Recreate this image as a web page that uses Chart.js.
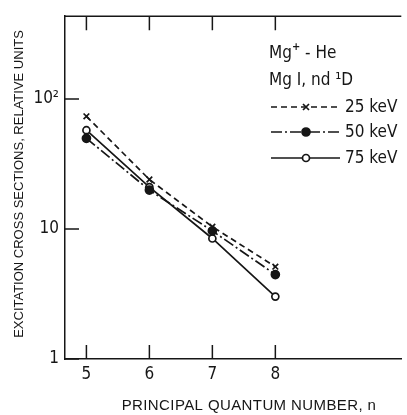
<!DOCTYPE html>
<html><head><meta charset="utf-8">
<script src="https://cdn.jsdelivr.net/npm/chart.js@4.4.1/dist/chart.umd.min.js"></script>
<style>html,body{margin:0;padding:0;background:#fff;overflow:hidden}#wrap{width:407px;height:415px;position:relative}</style>
</head><body><div id="wrap"><canvas id="c" width="407" height="415"></canvas></div>
<script>
// ---- data ----
const quantumN = [5, 6, 7, 8];
const kev25 = [73.5, 24.0, 10.4, 5.13];
const kev50 = [49.8, 19.9, 9.66, 4.46];
const kev75 = [57.5, 21.0, 8.45, 3.02];
const xTickValues = [5, 6, 7, 8];
const yTickValues = [1, 10, 100];
const yTickLabels = ['1', '10', '10²'];
const seriesLabels = ['25 keV', '50 keV', '75 keV'];
const xTitle = 'PRINCIPAL QUANTUM NUMBER, n';
const yTitle = 'EXCITATION CROSS SECTIONS, RELATIVE UNITS';
const headerLine1 = ['Mg', '+', ' - He'];
const headerLine2 = 'Mg I, nd ¹D';

const INK = '#161616';
const NARROW = "'Liberation Sans Narrow','DejaVu Sans Condensed','Liberation Sans',sans-serif";
const REG = "'Liberation Sans','Arial',sans-serif";

const styles = [
  {dash: [6, 4], pointStyle: 'crossRot', r: 4, fill: INK},
  {dash: [11, 3, 2, 3], pointStyle: 'circle', r: 4, fill: INK},
  {dash: [], pointStyle: 'circle', r: 3.5, fill: '#fff'}
];

function mk(vals, i) {
  const s = styles[i];
  return {
    label: seriesLabels[i],
    data: quantumN.map((x, k) => ({x, y: vals[k]})),
    borderColor: INK, borderWidth: 1.7, borderDash: s.dash,
    pointStyle: s.pointStyle, pointRadius: s.r, pointBorderWidth: 1.7,
    pointBackgroundColor: s.fill, pointBorderColor: INK, tension: 0, fill: false
  };
}

function drawMarker(ctx, style, x, y) {
  ctx.save();
  ctx.setLineDash([]);
  ctx.lineWidth = 1.7; ctx.strokeStyle = INK;
  if (style.pointStyle === 'crossRot') {
    const d = style.r * 0.75;
    ctx.beginPath(); ctx.moveTo(x - d, y - d); ctx.lineTo(x + d, y + d);
    ctx.moveTo(x - d, y + d); ctx.lineTo(x + d, y - d); ctx.stroke();
  } else {
    ctx.beginPath(); ctx.arc(x, y, style.r, 0, Math.PI * 2);
    ctx.fillStyle = style.fill; ctx.fill(); ctx.stroke();
  }
  ctx.restore();
}

const decor = {
  id: 'decor',
  afterDraw(chart) {
    const {ctx, chartArea: {left, right, top, bottom}, scales: {x, y}} = chart;
    ctx.save();
    ctx.strokeStyle = INK; ctx.lineWidth = 1.5; ctx.setLineDash([]);
    ctx.beginPath();
    ctx.moveTo(left - 0.75, top); ctx.lineTo(right, top);
    xTickValues.forEach(v => {
      const px = x.getPixelForValue(v);
      ctx.moveTo(px, bottom); ctx.lineTo(px, bottom - 14);
      ctx.moveTo(px, top); ctx.lineTo(px, top + 14);
    });
    yTickValues.forEach(v => {
      const py = y.getPixelForValue(v);
      ctx.moveTo(left, py); ctx.lineTo(left + 14, py);
    });
    ctx.stroke();

    // axis titles
    ctx.fillStyle = INK;
    ctx.font = '15px ' + REG;
    ctx.letterSpacing = '0.4px';
    ctx.textAlign = 'center'; ctx.textBaseline = 'alphabetic';
    ctx.fillText(xTitle, 249, 410);
    ctx.save();
    ctx.translate(23, 184); ctx.rotate(-Math.PI / 2);
    ctx.font = '13px ' + REG;
    ctx.letterSpacing = '0px';
    ctx.fillText(yTitle, 0, 0);
    ctx.restore();

    // legend block
    ctx.letterSpacing = '0px';
    ctx.textAlign = 'left';
    ctx.font = '17px ' + NARROW;
    let tx = 269;
    ctx.fillText(headerLine1[0], tx, 58); tx += ctx.measureText(headerLine1[0]).width;
    ctx.font = 'bold 11px ' + NARROW;
    ctx.fillText(headerLine1[1], tx, 50); tx += ctx.measureText(headerLine1[1]).width;
    ctx.font = '17px ' + NARROW;
    ctx.fillText(headerLine1[2], tx, 58);
    ctx.fillText(headerLine2, 269, 85);
    const rows = [107, 132, 158];
    rows.forEach((ry, i) => {
      const s = styles[i];
      ctx.save();
      ctx.lineWidth = 1.7; ctx.strokeStyle = INK; ctx.setLineDash(s.dash);
      ctx.beginPath(); ctx.moveTo(271, ry); ctx.lineTo(340, ry); ctx.stroke();
      ctx.restore();
      drawMarker(ctx, s, 306, ry);
      ctx.textBaseline = 'middle';
      ctx.fillText(seriesLabels[i], 345, ry + 1);
    });
    ctx.restore();
  }
};

new Chart(document.getElementById('c'), {
  type: 'line',
  data: {datasets: [mk(kev25, 0), mk(kev50, 1), mk(kev75, 2)]},
  options: {
    responsive: false, animation: false, devicePixelRatio: 1,
    layout: {padding: {top: 11, right: 0, bottom: 0, left: 0}},
    plugins: {legend: {display: false}, tooltip: {enabled: false}},
    scales: {
      x: {
        type: 'linear', min: 4.66, max: 10,
        afterBuildTicks: s => { s.ticks = xTickValues.map(v => ({value: v})); },
        afterFit: s => { s.height = 56; },
        grid: {display: false, drawTicks: false},
        border: {display: true, color: INK, width: 1.5},
        ticks: {color: INK, padding: 5, font: {family: NARROW, size: 17}, callback: v => String(v)}
      },
      y: {
        type: 'logarithmic', min: 1, max: 433,
        afterBuildTicks: s => { s.ticks = yTickValues.map(v => ({value: v})); },
        afterFit: s => { s.width = 65; },
        grid: {display: false, drawTicks: false},
        border: {display: true, color: INK, width: 1.5},
        ticks: {color: INK, padding: 6, font: {family: NARROW, size: 17},
          callback: v => { const i = yTickValues.indexOf(v); return i >= 0 ? yTickLabels[i] : ''; }}
      }
    }
  },
  plugins: [decor]
});
</script>
</body></html>
